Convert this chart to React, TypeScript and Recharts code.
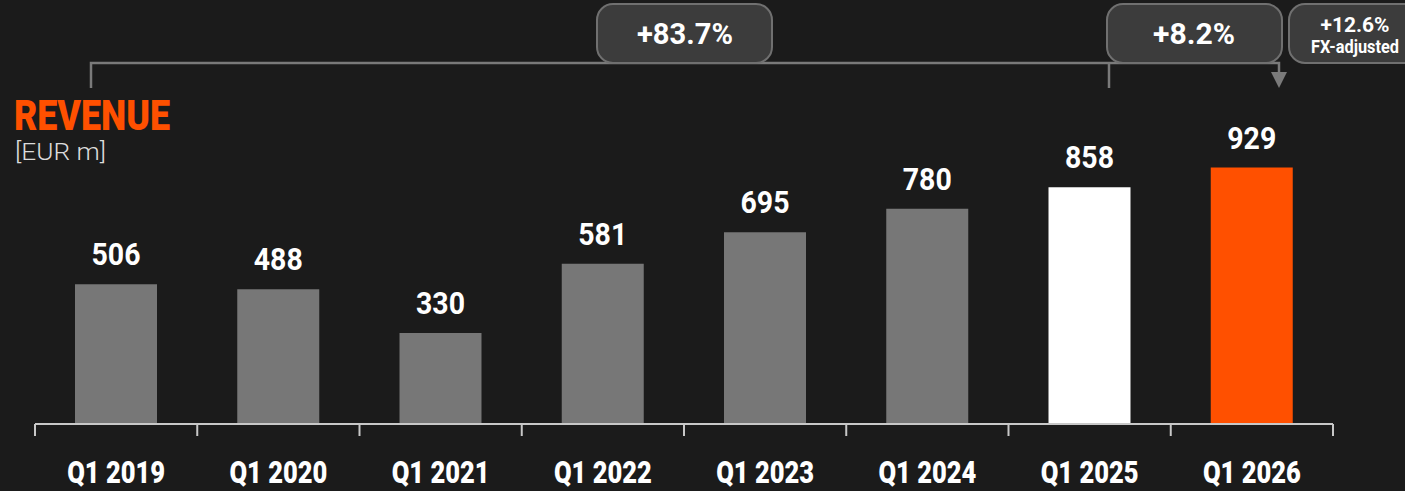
import { Bar, BarChart, Cell, LabelList, XAxis, YAxis } from 'recharts';

const quarters = ['Q1 2019', 'Q1 2020', 'Q1 2021', 'Q1 2022', 'Q1 2023', 'Q1 2024', 'Q1 2025', 'Q1 2026'];
const revenue = [506, 488, 330, 581, 695, 780, 858, 929];
const barColors = ['#777777', '#777777', '#777777', '#777777', '#777777', '#777777', '#ffffff', '#ff5000'];
const growthLabels = ['+83.7%', '+8.2%'];
const fxLabels = ['+12.6%', 'FX-adjusted'];

const W = 1405;
const H = 491;
const MARGIN = { top: 148, right: 72, bottom: 7, left: 35 };
const AXIS_H = 60;
const BAND = (W - MARGIN.left - MARGIN.right) / quarters.length;

const BG = '#1b1b1b';
const LINE = '#7a7a7a';
const FONT = 'Roboto, "Liberation Sans", sans-serif';

const chartData = quarters.map((quarter, i) => ({ quarter, value: revenue[i] }));

function QuarterTick(props: any) {
  const { x, y, payload, index } = props;
  const half = BAND / 2;
  return (
    <g>
      <line x1={x - half} x2={x - half} y1={y} y2={y + 12} stroke="#c8c8c8" strokeWidth={2} />
      {index === quarters.length - 1 && (
        <line x1={x + half} x2={x + half} y1={y} y2={y + 12} stroke="#c8c8c8" strokeWidth={2} />
      )}
      <text
        x={x}
        y={y + 59}
        textAnchor="middle"
        fill="#ffffff"
        fontFamily={FONT}
        fontWeight={900}
        fontSize={32}
        textLength={98}
        lengthAdjust="spacingAndGlyphs"
      >
        {payload.value}
      </text>
    </g>
  );
}

function ValueLabel(props: any) {
  const { x, y, width, value } = props;
  return (
    <text
      x={x + width / 2}
      y={y - 19}
      textAnchor="middle"
      fill="#ffffff"
      fontFamily={FONT}
      fontWeight={700}
      fontSize={31}
      textLength={49}
      lengthAdjust="spacingAndGlyphs"
    >
      {value}
    </text>
  );
}

function Annotations() {
  return (
    <svg
      width={W}
      height={H}
      style={{ position: 'absolute', left: 0, top: 0, pointerEvents: 'none' }}
    >
      <text x={14} y={130} fill="#ff5000" fontFamily={FONT} fontWeight={900} fontSize={42} textLength={156} lengthAdjust="spacingAndGlyphs">
        REVENUE
      </text>
      <text x={15} y={160} fill="#dcdcdc" fontFamily={FONT} fontWeight={300} fontSize={23} textLength={91} lengthAdjust="spacingAndGlyphs">
        [EUR m]
      </text>

      <path d="M91 88 V63 H1279 V74" fill="none" stroke={LINE} strokeWidth={2.5} />
      <path d="M1109 63 V88" fill="none" stroke={LINE} strokeWidth={2.5} />
      <path d="M1271 72 L1287 72 L1279 88 Z" fill={LINE} />

      <rect x={597} y={4} width={175} height={59} rx={16} fill="#3c3c3c" stroke="#707070" strokeWidth={2} />
      <text x={685} y={44} textAnchor="middle" fill="#ffffff" fontFamily={FONT} fontWeight={700} fontSize={30} textLength={96} lengthAdjust="spacingAndGlyphs">
        {growthLabels[0]}
      </text>

      <rect x={1107} y={4} width={175} height={59} rx={16} fill="#3c3c3c" stroke="#707070" strokeWidth={2} />
      <text x={1194} y={44} textAnchor="middle" fill="#ffffff" fontFamily={FONT} fontWeight={700} fontSize={30} textLength={82} lengthAdjust="spacingAndGlyphs">
        {growthLabels[1]}
      </text>

      <rect x={1289} y={4} width={134} height={59} rx={16} fill="#3c3c3c" stroke="#707070" strokeWidth={2} />
      <text x={1355} y={32} textAnchor="middle" fill="#ffffff" fontFamily={FONT} fontWeight={700} fontSize={21} textLength={69} lengthAdjust="spacingAndGlyphs">
        {fxLabels[0]}
      </text>
      <text x={1355} y={53} textAnchor="middle" fill="#ffffff" fontFamily={FONT} fontWeight={700} fontSize={18} textLength={88} lengthAdjust="spacingAndGlyphs">
        {fxLabels[1]}
      </text>
    </svg>
  );
}

export default function App() {
  return (
    <div style={{ position: 'relative', width: W, height: H, background: BG, overflow: 'hidden' }}>
      <style>{`body{margin:0;background:${BG};}`}</style>
      <BarChart width={W} height={H} data={chartData} margin={MARGIN}>
        <YAxis hide domain={[0, 1000]} />
        <XAxis
          dataKey="quarter"
          height={AXIS_H}
          axisLine={{ stroke: '#c8c8c8', strokeWidth: 2 }}
          tickLine={false}
          tickSize={0}
          tickMargin={0}
          interval={0}
          tick={<QuarterTick />}
        />
        <Bar dataKey="value" barSize={82} isAnimationActive={false}>
          {chartData.map((entry, i) => (
            <Cell key={entry.quarter} fill={barColors[i]} />
          ))}
          <LabelList dataKey="value" content={<ValueLabel />} />
        </Bar>
      </BarChart>
      <Annotations />
    </div>
  );
}
